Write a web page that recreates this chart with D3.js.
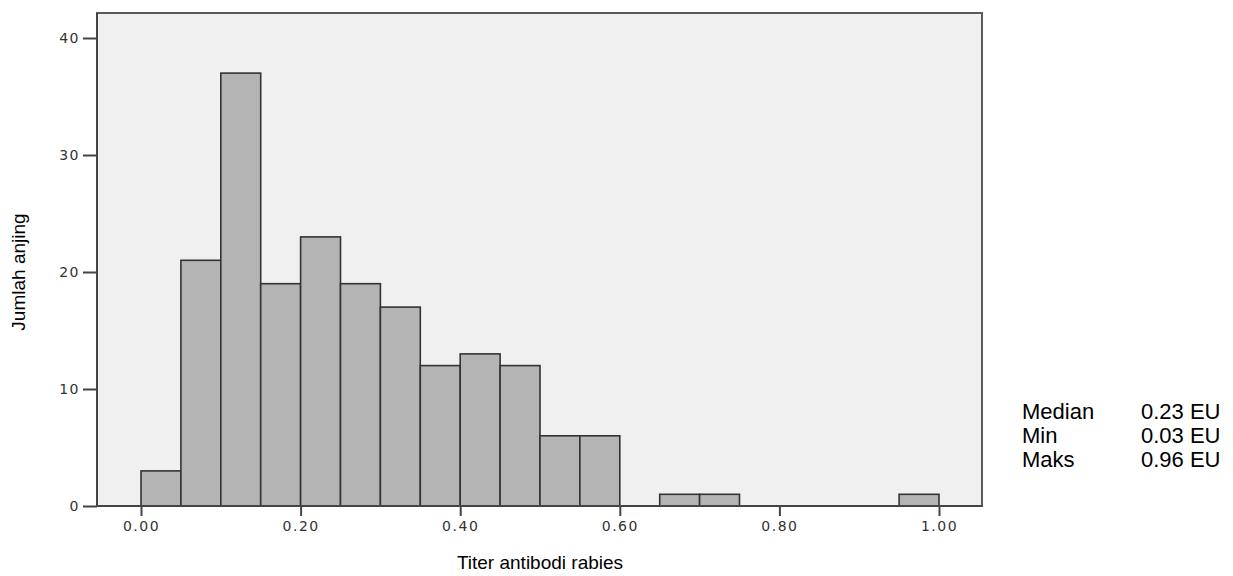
<!DOCTYPE html>
<html>
<head>
<meta charset="utf-8">
<script src="https://cdn.jsdelivr.net/npm/d3@7"></script>
<style>
  body { margin: 0; background: #fff; }
  svg text { font-family: "Liberation Sans", Arial, sans-serif; }
</style>
</head>
<body>
<svg id="chart" width="1233" height="576"></svg>
<script>
// Histogram bins (lower edge) and counts.
var binStart = [0.00, 0.05, 0.10, 0.15, 0.20, 0.25, 0.30, 0.35, 0.40, 0.45, 0.50, 0.55, 0.65, 0.70, 0.95];
var binCount = [3, 21, 37, 19, 23, 19, 17, 12, 13, 12, 6, 6, 1, 1, 1];
var binWidth = 0.05;

var xTicks = [0, 0.2, 0.4, 0.6, 0.8, 1.0];
var yTicks = [0, 10, 20, 30, 40];

var statLabels = ['Median', 'Min', 'Maks'];
var statValues = ['0.23 EU', '0.03 EU', '0.96 EU'];

var svg = d3.select('#chart');

// plot frame (note: "top" is taken by window.top, so use a prefix)
var plotLeft = 97, plotRight = 982, plotTop = 13, plotBottom = 506;

var x = d3.scaleLinear()
  .domain([0, 1])
  .range([141, 939]);
var y = d3.scaleLinear()
  .domain([0, 40])
  .range([plotBottom, 38]);

// background panel
svg.append('rect')
  .attr('x', plotLeft)
  .attr('y', plotTop)
  .attr('width', plotRight - plotLeft)
  .attr('height', plotBottom - plotTop)
  .attr('fill', '#f0f0f0')
  .attr('stroke', '#5a5a5a')
  .attr('stroke-width', 2);

// bars
var bins = binStart.map(function(s, i) { return {x0: s, x1: s + binWidth, n: binCount[i]}; });
svg.append('g')
  .selectAll('rect')
  .data(bins)
  .enter().append('rect')
    .attr('x', function(d) { return x(d.x0); })
    .attr('y', function(d) { return y(d.n); })
    .attr('width', function(d) { return x(d.x1) - x(d.x0); })
    .attr('height', function(d) { return y(0) - y(d.n); })
    .attr('fill', '#b4b4b4')
    .attr('stroke', '#333')
    .attr('stroke-width', 1.6);

// axes
var yAxis = svg.append('g')
  .attr('transform', 'translate(' + plotLeft + ',0)')
  .call(d3.axisLeft(y).tickValues(yTicks).tickSize(14).tickPadding(3).tickFormat(d3.format('d')));
var xAxis = svg.append('g')
  .attr('transform', 'translate(0,' + plotBottom + ')')
  .call(d3.axisBottom(x).tickValues(xTicks).tickSize(10).tickPadding(5).tickFormat(d3.format('.2f')));

[yAxis, xAxis].forEach(function(ax) {
  ax.select('.domain').remove();
  ax.selectAll('line').attr('stroke', '#444').attr('stroke-width', 2);
  ax.selectAll('text')
    .attr('fill', '#333')
    .style('font-family', '"DejaVu Sans", sans-serif')
    .style('font-size', '14px')
    .style('letter-spacing', '1.5px');
});

// left and bottom frame edges are darker
svg.append('line')
  .attr('x1', plotLeft).attr('x2', plotLeft).attr('y1', plotTop).attr('y2', plotBottom)
  .attr('stroke', '#444').attr('stroke-width', 2);
svg.append('line')
  .attr('x1', plotLeft).attr('x2', plotRight).attr('y1', plotBottom).attr('y2', plotBottom)
  .attr('stroke', '#444').attr('stroke-width', 2);

// axis titles
svg.append('text')
  .attr('transform', 'translate(25,272) rotate(-90)')
  .attr('text-anchor', 'middle')
  .style('font-size', '19px')
  .text('Jumlah anjing');
svg.append('text')
  .attr('x', 540)
  .attr('y', 569)
  .attr('text-anchor', 'middle')
  .style('font-size', '19px')
  .text('Titer antibodi rabies');

// summary block on the right
var stats = svg.append('g');
statLabels.forEach(function(lab, i) {
  stats.append('text')
    .attr('x', 1022)
    .attr('y', 419 + i * 24)
    .style('font-size', '22px')
    .text(lab);
  stats.append('text')
    .attr('x', 1141)
    .attr('y', 419 + i * 24)
    .style('font-size', '22px')
    .text(statValues[i]);
});
</script>
</body>
</html>
